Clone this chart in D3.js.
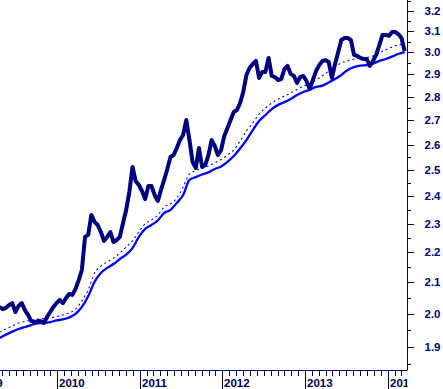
<!DOCTYPE html>
<html><head><meta charset="utf-8">
<script src="https://cdn.jsdelivr.net/npm/d3@7"></script>
<style>body{margin:0;background:#fff;overflow:hidden} svg{display:block}</style>
</head><body>
<svg id="c" width="443" height="389"></svg>
<script>
// ---- data ----
const priceStart = "2009-04-20";
const priceStepDays = 14;
const priceValues = [
 2.021,2.014,2.018,2.027,2.033,2.005,2.024,2.033,2.011,1.996,
 1.977,1.974,1.977,1.977,1.971,1.990,2.005,2.021,2.033,2.043,
 2.033,2.049,2.062,2.059,2.078,2.107,2.140,2.253,2.260,2.331,
 2.306,2.295,2.270,2.239,2.253,2.270,2.235,2.242,2.253,2.302,
 2.349,2.415,2.511,2.457,2.442,2.419,2.389,2.438,2.438,2.404,
 2.382,2.423,2.461,2.503,2.550,2.558,2.586,2.618,2.639,2.701,
 2.618,2.530,2.507,2.586,2.511,2.519,2.558,2.618,2.594,2.558,
 2.578,2.635,2.668,2.701,2.735,2.743,2.773,2.821,2.896,2.928,
 2.946,2.960,2.883,2.910,2.910,2.974,2.892,2.887,2.874,2.878,
 2.923,2.937,2.901,2.892,2.861,2.887,2.892,2.869,2.834,2.874,
 2.914,2.941,2.960,2.964,2.955,2.883,2.946,3.001,3.058,3.067,
 3.067,3.058,2.988,2.983,2.974,2.969,2.969,2.937,2.960,2.988,
 3.034,3.082,3.082,3.077,3.096,3.096,3.086,3.067,3.006
];
const maStart = "2009-04-20";
const maStepDays = 28;
const maLong = [
 1.926,1.936,1.945,1.953,1.959,1.965,1.970,1.971,1.974,1.979,
 1.982,1.988,1.999,2.021,2.055,2.101,2.130,2.147,2.160,2.177,
 2.192,2.214,2.253,2.281,2.295,2.311,2.338,2.349,2.375,2.404,
 2.461,2.472,2.482,2.490,2.503,2.513,2.531,2.554,2.584,2.618,
 2.659,2.697,2.722,2.747,2.765,2.777,2.790,2.808,2.821,2.830,
 2.843,2.849,2.863,2.878,2.896,2.919,2.932,2.939,2.941,2.948,
 2.960,2.969,2.980,2.992,3.001
];
const maShort = [
 1.944,1.953,1.962,1.971,1.976,1.980,1.983,1.985,1.987,1.991,
 1.996,2.002,2.014,2.040,2.075,2.130,2.153,2.167,2.180,2.197,
 2.218,2.239,2.270,2.299,2.313,2.331,2.360,2.371,2.393,2.434,
 2.484,2.497,2.507,2.515,2.527,2.540,2.558,2.578,2.614,2.655,
 2.688,2.726,2.752,2.773,2.790,2.803,2.817,2.832,2.847,2.858,
 2.874,2.892,2.914,2.932,2.951,2.960,2.969,2.974,2.976,2.983,
 2.997,3.012,3.024,3.035,3.038
];
const yTickValues = [1.9,2.0,2.1,2.2,2.3,2.4,2.5,2.6,2.7,2.8,2.9,3.0,3.1,3.2];
const yMinorValues = [1.85,1.95,2.05,2.15,2.25,2.35,2.45,2.55,2.65,2.75,2.85,2.95,3.05,3.15,3.25];
const yearLabels = ["2009","2010","2011","2012","2013","2014"];

// ---- layout ----
const plotRight = 407, plotBottom = 370;
const navy = "#000080", blue = "#0000ff";
const font = "'Liberation Sans', Arial, sans-serif";

const svg = d3.select("#c");
const x = d3.scaleUtc()
  .domain([new Date(Date.UTC(2009,0,1)), new Date(Date.UTC(2014,0,1))])
  .range([-25.05, 387.7]);
const y = d3.scaleLog().domain([1.9, 3.2]).range([346.7, 10.7]);

const dayMs = 86400000;
function series(start, step, vals){
  const t0 = new Date(start + "T00:00:00Z").getTime();
  return vals.map((v,i)=>({d:new Date(t0 + i*step*dayMs), v}));
}
const price = series(priceStart, priceStepDays, priceValues);
const longMA = series(maStart, maStepDays, maLong);
const shortMA = series(maStart, maStepDays, maShort);

svg.append("defs").append("clipPath").attr("id","plotclip")
  .append("rect").attr("x",0).attr("y",0).attr("width",plotRight).attr("height",plotBottom);
svg.append("defs").append("clipPath").attr("id","xclip")
  .append("rect").attr("x",0).attr("y",plotBottom).attr("width",plotRight+0.5).attr("height",389-plotBottom);

const plot = svg.append("g").attr("clip-path","url(#plotclip)");

plot.append("path").datum(shortMA)
  .attr("d", d3.line().x(d=>x(d.d)).y(d=>y(d.v)).curve(d3.curveMonotoneX))
  .attr("fill","none").attr("stroke",blue).attr("stroke-width",1.1)
  .attr("stroke-dasharray","2,3");
plot.append("path").datum(longMA)
  .attr("d", d3.line().x(d=>x(d.d)).y(d=>y(d.v)).curve(d3.curveMonotoneX))
  .attr("fill","none").attr("stroke",blue).attr("stroke-width",2.3);
plot.append("path").datum(price)
  .attr("d", d3.line().x(d=>x(d.d)).y(d=>y(d.v)))
  .attr("fill","none").attr("stroke",navy).attr("stroke-width",4)
  .attr("stroke-linejoin","round");

// ---- y axis (right) ----
const yAxis = d3.axisRight(y).tickValues(yTickValues).tickSize(6).tickPadding(11)
  .tickFormat(d3.format(".1f"));
const yg = svg.append("g").attr("transform",`translate(${plotRight+0.5},0)`).call(yAxis);
yg.select(".domain").attr("d",`M0,0V${plotBottom}`);
yg.selectAll("path,line").attr("stroke",navy).attr("shape-rendering","crispEdges");
yg.selectAll("text").attr("fill",navy).style("font-family",font)
  .style("font-size","11.5px").style("font-weight","bold");
const ym = svg.append("g").attr("transform",`translate(${plotRight+0.5},0)`);
ym.selectAll("line").data(yMinorValues).join("line")
  .attr("x1",0).attr("x2",3).attr("y1",d=>Math.round(y(d))+0.5).attr("y2",d=>Math.round(y(d))+0.5)
  .attr("stroke",navy).attr("shape-rendering","crispEdges");

// ---- x axis (bottom) ----
const xg = svg.append("g").attr("clip-path","url(#xclip)");
xg.append("line").attr("x1",0).attr("x2",plotRight+1).attr("y1",plotBottom+0.5).attr("y2",plotBottom+0.5)
  .attr("stroke",navy).attr("shape-rendering","crispEdges");
const months = d3.utcMonth.range(new Date(Date.UTC(2009,0,1)), new Date(Date.UTC(2014,6,1)));
xg.selectAll("line.m").data(months).join("line").attr("class","m")
  .attr("x1",d=>Math.round(x(d))+0.5).attr("x2",d=>Math.round(x(d))+0.5)
  .attr("y1",plotBottom).attr("y2",d=>d.getUTCMonth()===0?389:376)
  .attr("stroke","#000040").attr("shape-rendering","crispEdges");
const years = yearLabels.map(s=>new Date(Date.UTC(+s,0,1)));
xg.selectAll("text").data(years).join("text")
  .attr("x",d=>Math.round(x(d))+2).attr("y",387)
  .attr("fill","#000050").style("font-family",font).style("font-size","11.5px").style("font-weight","bold")
  .text((d,i)=>yearLabels[i]);
</script>
</body></html>
